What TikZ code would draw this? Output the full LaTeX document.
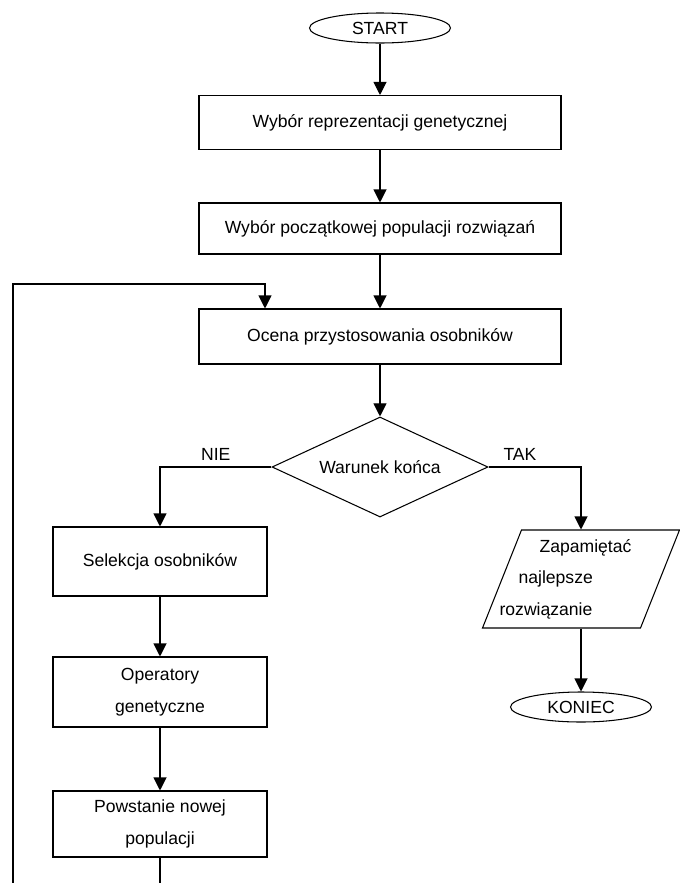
\documentclass[tikz,border=0pt]{standalone}
\usepackage{fontspec}
\setmainfont{Liberation Sans}
\usepackage{tikz}
\tikzset{
blok/.style={shape=rectangle, draw, minimum width=7.24cm, align=center},
blokmaly/.style={shape=rectangle, draw, minimum width=4.28cm, align=center},
term/.style={shape=ellipse, draw, minimum width=2.82cm, minimum height=0.6cm, inner sep=0pt},
strz/.style={-{Triangle[length=7.4pt,width=7.4pt]}}}
\usetikzlibrary{arrows.meta}
\usetikzlibrary{shapes.geometric}

\begin{document}
\begin{tikzpicture}[line width=0.6pt, font=\fontsize{10}{18}\selectfont]
    
                \useasboundingbox (0,0) rectangle (13.6,-17.66);
    
                \node[term] (start) at (7.6,-0.56) {START};
                \node[blok, minimum height=1.08cm] (rep) at (7.6,-2.45) {Wybór reprezentacji genetycznej};
                \node[blok, minimum height=1.02cm] (pop) at (7.6,-4.57) {Wybór początkowej populacji rozwiązań};
                \node[blok, minimum height=1.1cm] (ocena) at (7.6,-6.73) {Ocena przystosowania osobników};
                \node[shape=diamond, draw, aspect=2.16, inner sep=0pt, minimum width=4.32cm, minimum height=2cm] (war) at (7.6,-9.34) {Warunek końca};
                \node[blokmaly, minimum height=1.38cm] (sel) at (3.2,-11.23) {Selekcja osobników};
                \node[blokmaly, minimum height=1.4cm] (oper) at (3.2,-13.84) {Operatory\\genetyczne};
                \node[blokmaly, minimum height=1.32cm] (pow) at (3.2,-16.48) {Powstanie nowej\\populacji};
                \node[inner sep=0pt, minimum height=1.96cm, align=left] (zap) at (11.62,-11.58) {\hspace*{0.8cm}Zapamiętać\hspace*{0.62cm}\\\hspace*{0.38cm}najlepsze\\rozwiązanie};
                \node[term] (kon) at (11.62,-14.14) {KONIEC};
    
                \draw ([shift={(-1.97,-0.98)}]zap.center) -- ([shift={(1.19,-0.98)}]zap.center) -- ([shift={(1.97,0.98)}]zap.center) -- ([shift={(-1.19,0.98)}]zap.center) -- cycle;
    
                \coordinate (dol) at (0.26,-17.66);
                \coordinate (gora) at (5.3,-5.68);
            
                \draw[strz] (start) -- (rep);
                \draw[strz] (rep) -- (pop);
                \draw[strz] (pop) -- (ocena);
                \draw[strz] (ocena) -- (war);
                \draw[strz] (war.west) -| (sel.north) node[pos=0.25, above] {NIE};
                \draw[strz] (war.east) -| (zap.north) node[pos=0.17, above] {TAK};
                \draw[strz] (sel) -- (oper);
                \draw[strz] (oper) -- (pow);
                \draw[strz] (zap) -- (kon);
                \draw (pow.south) -- (pow.south |- dol);
                \draw[strz] (dol) |- (gora) -- (gora |- ocena.north);
        
            \end{tikzpicture}
\end{document}
